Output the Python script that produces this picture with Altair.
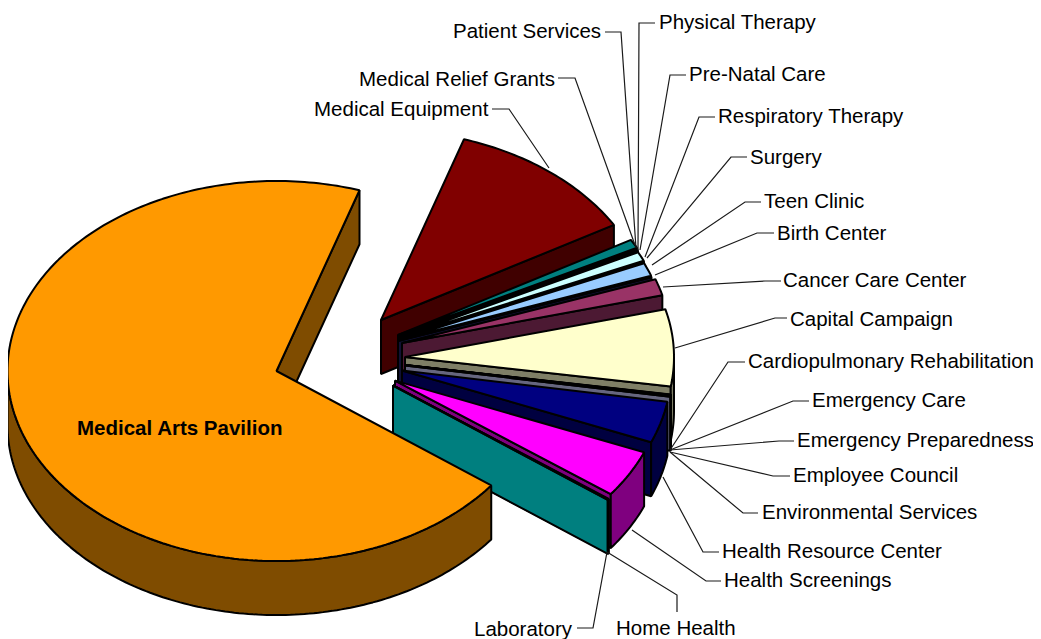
import numpy as np
import altair as alt

W, H, OFF = 1025, 631, 8
RX, RY, DEPTH = 269, 190, 54
START = 70.2

names = ["Birth Center", "Cancer Care Center", "Capital Campaign", "Cardiopulmonary Rehabilitation",
         "Emergency Care", "Emergency Preparedness", "Employee Council", "Environmental Services",
         "Health Resource Center", "Health Screenings", "Home Health", "Laboratory",
         "Medical Arts Pavilion", "Medical Equipment", "Medical Relief Grants", "Patient Services",
         "Physical Therapy", "Pre-Natal Care", "Respiratory Therapy", "Surgery", "Teen Clinic"]
values = [0.06, 1.39, 6.53, 0.03, 0.03, 0.03, 0.03, 0.03, 3.53, 4.03, 0.05, 0.05,
          69.72, 11.67, 0.75, 0.07, 0.07, 0.78, 0.03, 0.03, 1.11]
colors = ["#222266", "#993366", "#FFFFCC", "#CCFFFF", "#660066", "#FF8080", "#0066CC", "#CCCCFF",
          "#000080", "#FF00FF", "#FFFF00", "#00FFFF", "#FF9900", "#800000", "#008080", "#0000FF",
          "#00CCFF", "#CCFFFF", "#CCFFCC", "#FFFF99", "#99CCFF"]
# where each exploded slice's point sits
apex = [(398, 341), (402, 343), (405, 357), (405, 365), (405, 365.1), (405, 365.2), (405, 365.3), (405, 365.5),
        (402, 370.5), (395, 380.6), (393, 385.5), (393, 385.5), (276.5, 371), (381, 320), (398, 335),
        (398, 336), (398, 337), (398, 338), (398, 339), (398, 339.5), (398, 340)]
draw_order = [13, 14, 15, 16, 17, 18, 19, 20, 0, 1, 2, 3, 4, 5, 6, 7, 8, 9, 10, 11, 12]

# label placement: text x, text y, then the leader's elbow and slice end
label_x = [777, 783, 790, 748, 812, 797, 793, 762, 722, 724, 616, 474, 77, 314, 359, 453, 659, 689, 718, 750, 764]
label_y = [234, 281, 320, 362, 401, 441, 476, 513, 552, 581, 629, 630, 429, 110, 80, 32, 23, 75, 117, 158, 202]
leaders = [
    [(774, 233), (757, 233), (655, 275)],
    [(781, 281), (765, 281), (663, 287)],
    [(787, 318), (775, 318), (675, 348)],
    [(745, 362), (728, 362), (670, 450)],
    [(809, 401), (793, 401), (670, 450)],
    [(794, 441), (779, 441), (670, 450)],
    [(790, 476), (773, 476), (670, 452)],
    [(758, 513), (743, 513), (670, 452)],
    [(719, 552), (703, 552), (663, 477)],
    [(721, 581), (706, 581), (632, 530)],
    [(677, 612), (677, 595), (607, 552)],
    [(577, 628), (593, 628), (607, 552)],
    None,
    [(492, 109), (509, 109), (549, 168)],
    [(558, 78), (575, 78), (635, 245)],
    [(605, 32), (621, 32), (636, 248)],
    [(655, 23), (639, 23), (638, 250)],
    [(686, 75), (670, 75), (640, 250)],
    [(715, 117), (699, 117), (645, 257)],
    [(747, 157), (731, 157), (647, 258)],
    [(761, 202), (745, 202), (652, 265)],
]


def shade(c):
    return "#%02X%02X%02X" % tuple(int(c[i:i + 2], 16) // 2 for i in (1, 3, 5))


def arc(a0, a1, ax, ay, dz=0):
    n = max(2, int(abs(a1 - a0)) + 2)
    t = np.radians(np.linspace(a0, a1, n))
    return [[float(ax + RX * np.sin(v) - OFF), float(ay - RY * np.cos(v) + dz - OFF)] for v in t]


def poly(points, fill):
    ring = list(points) + [points[0]]
    return {"type": "Feature", "geometry": {"type": "Polygon", "coordinates": [ring]},
            "properties": {"fill": fill}}


shares = np.array(values) / sum(values) * 360
starts = START + np.concatenate([[0], np.cumsum(shares)[:-1]])

features = []
for i in draw_order:
    s, e = starts[i], starts[i] + shares[i]
    ax, ay = apex[i]
    c = colors[i]
    p = [ax - OFF, ay - OFF]
    end_top = arc(e, e, ax, ay)[0]
    features.append(poly([p, end_top, [end_top[0], end_top[1] + DEPTH], [p[0], p[1] + DEPTH]], shade(c)))
    lo, hi = max(s, 90), min(e, 270)
    if hi > lo:
        features.append(poly(arc(lo, hi, ax, ay) + arc(hi, lo, ax, ay, DEPTH), shade(c)))
    features.append(poly([p] + arc(s, e, ax, ay), c))

lines = [{"type": "Feature",
          "geometry": {"type": "LineString", "coordinates": [[x - OFF, y - OFF] for x, y in l]},
          "properties": {}} for l in leaders if l]

proj = alt.Projection(type="identity", scale=1, translate=[0, 0])

slices = alt.Chart(alt.Data(values=features)).mark_geoshape(
    stroke="black", strokeWidth=2.0, strokeJoin="bevel"
).encode(fill=alt.Fill("properties.fill:N", scale=None)).project(**proj.to_dict())

leader_layer = alt.Chart(alt.Data(values=lines)).mark_geoshape(
    filled=False, stroke="#1A1A1A", strokeWidth=1.2
).project(**proj.to_dict())

rows = [{"name": n, "x": x - OFF, "y": y - OFF, "w": "bold" if v > 50 else "normal"}
        for n, x, y, v in zip(names, label_x, label_y, values)]
x_enc = alt.X("x:Q", scale=alt.Scale(domain=[0, W], range=[0, W]), axis=None)
y_enc = alt.Y("y:Q", scale=alt.Scale(domain=[0, H], range=[0, H]), axis=None)
base = alt.Chart(alt.Data(values=rows))
normal = base.transform_filter("datum.w == 'normal'").mark_text(
    align="left", baseline="middle", font="Liberation Sans", fontSize=20.5, color="black"
).encode(x=x_enc, y=y_enc, text="name:N")
bold = base.transform_filter("datum.w == 'bold'").mark_text(
    align="left", baseline="middle", font="Liberation Sans", fontSize=20.5, fontWeight="bold", color="black"
).encode(x=x_enc, y=y_enc, text="name:N")

chart = alt.layer(slices, leader_layer, normal, bold).properties(
    width=W, height=H, padding=0, autosize="none", background="white"
).configure_view(stroke=None)

chart.save("out.html", embed_options={"renderer": "svg", "actions": False})
